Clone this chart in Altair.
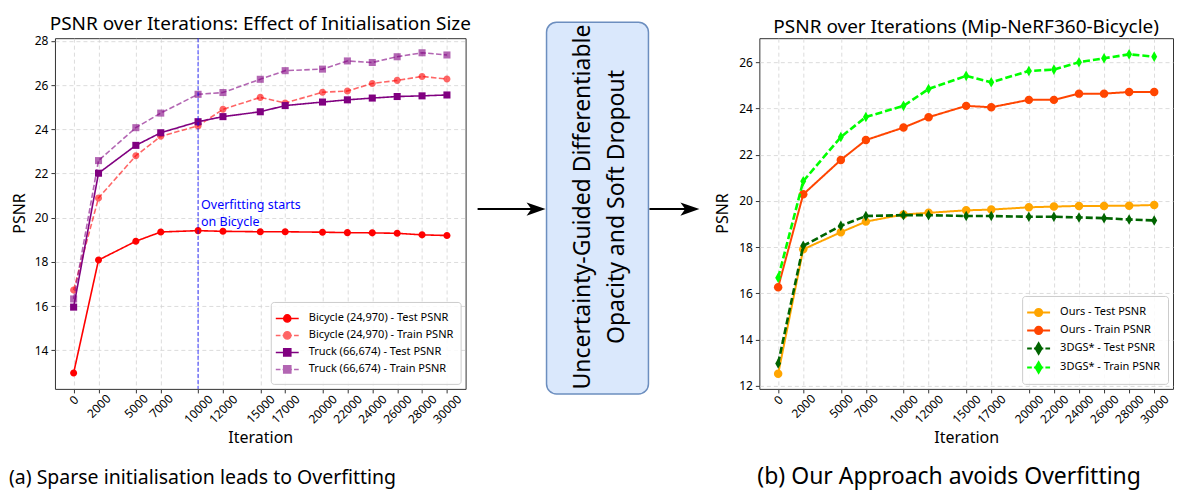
import altair as alt
import pandas as pd

# ---------------- data ----------------
iterations = [0, 2000, 5000, 7000, 10000, 12000, 15000, 17000, 20000, 22000, 24000, 26000, 28000, 30000]

left_labels = ["Bicycle (24,970) - Test PSNR", "Bicycle (24,970) - Train PSNR",
               "Truck (66,674) - Test PSNR", "Truck (66,674) - Train PSNR"]
bicycle_test = [12.97, 18.08, 18.93, 19.35, 19.41, 19.38, 19.36, 19.36, 19.34, 19.32, 19.31, 19.29, 19.22, 19.19]
bicycle_train = [16.72, 20.89, 22.80, 23.68, 24.15, 24.90, 25.44, 25.19, 25.67, 25.73, 26.07, 26.21, 26.39, 26.27]
truck_test = [15.95, 22.01, 23.27, 23.84, 24.34, 24.57, 24.79, 25.07, 25.23, 25.33, 25.41, 25.48, 25.51, 25.55]
truck_train = [16.32, 22.58, 24.07, 24.73, 25.58, 25.66, 26.26, 26.65, 26.72, 27.09, 27.02, 27.28, 27.46, 27.36]

right_labels = ["Ours - Test PSNR", "Ours - Train PSNR", "3DGS* - Test PSNR", "3DGS* - Train PSNR"]
ours_test = [12.51, 17.90, 18.64, 19.10, 19.41, 19.48, 19.59, 19.62, 19.72, 19.75, 19.78, 19.78, 19.79, 19.82]
ours_train = [16.26, 20.28, 21.77, 22.63, 23.17, 23.62, 24.11, 24.05, 24.37, 24.37, 24.64, 24.64, 24.71, 24.71]
gs_test = [12.96, 18.05, 18.92, 19.34, 19.38, 19.38, 19.34, 19.34, 19.31, 19.31, 19.28, 19.25, 19.19, 19.15]
gs_train = [16.67, 20.85, 22.76, 23.63, 24.11, 24.84, 25.41, 25.13, 25.62, 25.68, 26.00, 26.17, 26.34, 26.24]

overfit_iteration = [10000]
overfit_psnr = [20.55]
overfit_text = ["Overfitting starts\non Bicycle"]

left_title = "PSNR over Iterations: Effect of Initialisation Size"
right_title = "PSNR over Iterations (Mip-NeRF360-Bicycle)"
left_caption = "(a) Sparse initialisation leads to Overfitting"
right_caption = "(b) Our Approach avoids Overfitting"
box_lines = ["Uncertainty-Guided Differentiable", "Opacity and Soft Dropout"]
y_title = "PSNR"

left_yticks = [14, 16, 18, 20, 22, 24, 26, 28]
right_yticks = [12, 14, 16, 18, 20, 22, 24, 26]

# ---------------- styles ----------------
FONT = "Noto Sans"
H = 351
CAP_Y = 446

left_style = dict(
    colors=["#ff0000", "#ff0000", "#800080", "#800080"],
    legend_colors=["#ff0000", "#ff6666", "#800080", "#b366b3"],
    opac=[1.0, 0.6, 1.0, 0.6],
    dashes=[[1, 0], [5.5, 2.4], [1, 0], [5.5, 2.4]],
    widths=[1.6, 1.6, 1.6, 1.6],
    markers=["circle", "circle", "square", "square"],
    dashed=[False, True, False, True],
    msize=50,
)
right_style = dict(
    colors=["#ffa500", "#ff4500", "#006400", "#00ff00"],
    legend_colors=["#ffa500", "#ff4500", "#006400", "#00ff00"],
    opac=[1.0, 1.0, 1.0, 1.0],
    dashes=[[1, 0], [1, 0], [7, 3], [7, 3]],
    widths=[2.0, 2.0, 2.6, 2.6],
    markers=["circle", "circle", "diamond", "diamond"],
    dashed=[False, False, True, True],
    msize=72,
)

MARKER_PATHS = {
    "circle": "M1,0A1,1,0,1,1,-1,0A1,1,0,1,1,1,0Z",
    "square": "M-1,-1L1,-1L1,1L-1,1Z",
    "diamond": "M0,-1.25L0.7,0L0,1.25L-0.7,0Z",
}
LEGEND_MARKERS = {
    "circle": "M0.42,0A0.42,0.42,0,1,1,-0.42,0A0.42,0.42,0,1,1,0.42,0Z",
    "square": "M-0.42,-0.42L0.42,-0.42L0.42,0.42L-0.42,0.42Z",
    "diamond": "M0,-0.62L0.36,0L0,0.62L-0.36,0Z",
}


def legend_path(marker, dashed):
    if dashed:
        line = "M-1.35,0L-0.8,0M-0.55,0L0.55,0M0.8,0L1.35,0"
    else:
        line = "M-1.35,0L1.35,0"
    return line + LEGEND_MARKERS[marker]


def long_df(labels, series):
    rows = []
    for lab, vals in zip(labels, series):
        for it, v in zip(iterations, vals):
            rows.append({"iteration": it, "psnr": v, "series": lab})
    return pd.DataFrame(rows)


x_axis = alt.Axis(
    values=iterations, format="d", labelAngle=315, labelAlign="center",
    labelBaseline="middle", labelOverlap=False, labelFlush=False,
    labelPadding={"condition": [{"test": "datum.value == 0", "value": 7},
                                {"test": "datum.value < 10000", "value": 13}],
                  "value": 16},
    title="Iteration",
)


def panel(labels, series, style, ydomain, yticks, title, caption, cap_x, cap_size, width,
          leg_stroke, ytitle_x, extra=None):
    df = long_df(labels, series)
    x = alt.X("iteration:Q", scale=alt.Scale(domain=[-1500, 31500], nice=False, zero=False), axis=x_axis)
    y = alt.Y("psnr:Q", scale=alt.Scale(domain=ydomain, nice=False, zero=False),
              axis=alt.Axis(values=yticks, format="d", title=None))
    layers = []
    for i, lab in enumerate(labels):
        base = alt.Chart(df).transform_filter(alt.datum.series == lab).encode(x=x, y=y)
        layers.append(base.mark_line(color=style["colors"][i], strokeDash=style["dashes"][i],
                                     strokeWidth=style["widths"][i], opacity=style["opac"][i]))
        layers.append(base.mark_point(filled=True, shape=MARKER_PATHS[style["markers"][i]],
                                      size=style["msize"], color=style["colors"][i],
                                      opacity=style["opac"][i], strokeWidth=0))
    if extra is not None:
        layers.extend(extra(x, y))
    legend = alt.Legend(
        title=None, orient="bottom-right", offset=5, fillColor="rgba(255,255,255,0.85)",
        strokeColor="#cccccc", cornerRadius=3, padding=7, labelFont=FONT, labelFontSize=11,
        labelColor="black", symbolSize=289, symbolStrokeWidth=leg_stroke, labelOffset=12,
        rowPadding=0, labelLimit=300, symbolOpacity=1,
    )
    leg_paths = [legend_path(m, d) for m, d in zip(style["markers"], style["dashed"])]
    leg = (
        alt.Chart(df)
        .transform_calculate(entry="datum.series")
        .transform_filter("datum.psnr < 0")
        .mark_point(filled=True, opacity=1)
        .encode(
            shape=alt.Shape("entry:N", scale=alt.Scale(domain=labels, range=leg_paths), legend=legend),
            fill=alt.Fill("entry:N", scale=alt.Scale(domain=labels, range=style["legend_colors"]), legend=legend),
            stroke=alt.Stroke("entry:N", scale=alt.Scale(domain=labels, range=style["legend_colors"]), legend=legend),
        )
    )
    layers.append(leg)
    ytitle = alt.Chart(pd.DataFrame({"t": [y_title]})).mark_text(
        angle=270, align="center", baseline="middle", fontSize=16, font=FONT, color="black"
    ).encode(text="t:N", x=alt.value(ytitle_x), y=alt.value(H / 2))
    layers.append(ytitle)
    cap = alt.Chart(pd.DataFrame({"t": [caption]})).mark_text(
        align="left", baseline="alphabetic", fontSize=cap_size, font=FONT, color="black"
    ).encode(text="t:N", x=alt.value(cap_x), y=alt.value(CAP_Y))
    layers.append(cap)
    return alt.layer(*layers).properties(
        width=width, height=H,
        title=alt.Title(title, fontSize=19, font=FONT, fontWeight="normal", color="black", offset=1),
    )


# overfitting marker for the left panel
ov_df = pd.DataFrame({"iteration": overfit_iteration, "psnr": overfit_psnr, "t": overfit_text})


def overfit_layers(x, y):
    rule = alt.Chart(ov_df).mark_rule(color="#0000ff", strokeDash=[4, 2], strokeWidth=1, opacity=0.8).encode(x=x)
    text = alt.Chart(ov_df).mark_text(
        align="left", baseline="middle", dx=3, lineBreak="\n", lineHeight=17, color="#0000ff",
        fontSize=12.5, font=FONT
    ).encode(x=x, y=y, text="t:N")
    return [rule, text]


left = panel(left_labels, [bicycle_test, bicycle_train, truck_test, truck_train], left_style,
             [12.25, 28.12], left_yticks, left_title, left_caption, -46, 19.5, 411, 1.5, -35,
             extra=overfit_layers)
right = panel(right_labels, [ours_test, ours_train, gs_test, gs_train], right_style,
              [11.86, 27.04], right_yticks, right_title, right_caption, -2, 23, 414, 2.0, -36)

# ---------------- middle block ----------------
one = pd.DataFrame({"k": [0]})
box = alt.Chart(one).mark_rect(cornerRadius=10, fill="#dae8fc", stroke="#6c8ebf", strokeWidth=1.5).encode(
    x=alt.value(76), x2=alt.value(178), y=alt.value(-16), y2=alt.value(356))
t1 = alt.Chart(one).mark_text(angle=270, fontSize=23, font=FONT, color="black", align="center",
                              baseline="middle").encode(x=alt.value(112), y=alt.value(169),
                                                        text=alt.value(box_lines[0]))
t2 = alt.Chart(one).mark_text(angle=270, fontSize=23, font=FONT, color="black", align="center",
                              baseline="middle").encode(x=alt.value(147), y=alt.value(169),
                                                        text=alt.value(box_lines[1]))
ARROW = "M1,0L-1,-0.7L-0.5,0L-1,0.7Z"
a1_line = alt.Chart(one).mark_rule(color="black", strokeWidth=2).encode(
    x=alt.value(7), x2=alt.value(69), y=alt.value(171))
a1_head = alt.Chart(one).mark_point(shape=ARROW, filled=True, size=361, color="black", opacity=1,
                                    strokeWidth=0).encode(x=alt.value(65.5), y=alt.value(171))
a2_line = alt.Chart(one).mark_rule(color="black", strokeWidth=2).encode(
    x=alt.value(179), x2=alt.value(223), y=alt.value(171))
a2_head = alt.Chart(one).mark_point(shape=ARROW, filled=True, size=361, color="black", opacity=1,
                                    strokeWidth=0).encode(x=alt.value(219.5), y=alt.value(171))
mid = alt.layer(box, t1, t2, a1_line, a1_head, a2_line, a2_head).properties(
    width=284, height=H, view=alt.ViewBackground(stroke="transparent"))

chart = (
    alt.hconcat(left, mid, right, spacing=5, bounds="flush")
    .resolve_scale(shape="independent", fill="independent", stroke="independent")
    .properties(padding={"top": 6, "left": 0, "right": 0, "bottom": 0})
    .configure(font=FONT)
    .configure_view(stroke="#333333", strokeWidth=1)
    .configure_axis(labelFont=FONT, labelFontSize=12, labelColor="black", titleFont=FONT,
                    titleFontSize=16, titleFontWeight="normal", titleColor="black",
                    tickColor="#333333", tickSize=4, domain=False, gridColor="#d3d3d3",
                    gridDash=[4, 3], gridWidth=0.8)
    .configure_axisX(titlePadding=4)
    .configure_axisY(labelPadding=3)
)

chart.save("out.html", embed_options={"renderer": "svg", "actions": False})
